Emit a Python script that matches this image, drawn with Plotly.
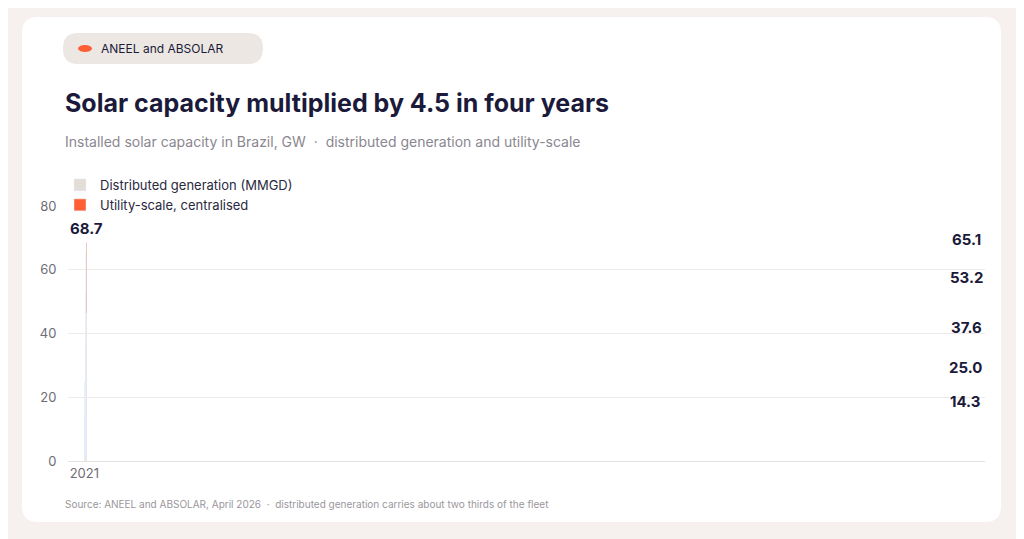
import plotly.graph_objects as go

years = ["2021", "2022", "2023", "2024", "2025", "mar 2026"]
distributed = [9.7, 17.6, 26.0, 36.1, 45.2, 46.4]
totals = [14.3, 25.0, 37.6, 53.2, 65.1, 68.7]
utility = [round(t - d, 1) for t, d in zip(totals, distributed)]

W, H = 1024, 539
OFF = 8  # page body margin
L, R, T, B = 68 - OFF, 39 + OFF, 206 - OFF, 78 + OFF
pw, ph = W - L - R, H - T - B

def px(x):
    return (x - OFF - L) / pw

def py(y):
    return (H - B - (y - OFF)) / ph

def rounded(x0, y0, x1, y1, r):
    X0, X1 = px(x0), px(x1)
    Y0, Y1 = py(y1), py(y0)
    rx, ry = r / pw, r / ph
    return (f"M {X0+rx},{Y0} L {X1-rx},{Y0} Q {X1},{Y0} {X1},{Y0+ry} "
            f"L {X1},{Y1-ry} Q {X1},{Y1} {X1-rx},{Y1} L {X0+rx},{Y1} "
            f"Q {X0},{Y1} {X0},{Y1-ry} L {X0},{Y0+ry} Q {X0},{Y0} {X0+rx},{Y0} Z")

fig = go.Figure()
fig.add_trace(go.Bar(x=years, y=distributed, name="Distributed generation (MMGD)",
                     marker_color="#e3ddd8", hoverinfo="y"))
fig.add_trace(go.Bar(x=years, y=utility, name="Utility-scale, centralised",
                     marker_color="#ff5f35", hoverinfo="y"))

for yr, t in zip(years, totals):
    fig.add_annotation(x=yr, y=t, text=f"<b>{t:.1f}</b>", showarrow=False, yshift=14,
                       font=dict(size=15, color="#1b1a3a"))

shapes = [
    dict(type="path", path=rounded(22, 17, 1001, 522, 16), xref="paper", yref="paper",
         fillcolor="white", line_width=0, layer="below"),
    dict(type="path", path=rounded(63, 33, 263, 64, 15), xref="paper", yref="paper",
         fillcolor="#ece7e3", line_width=0, layer="below"),
    dict(type="circle", xref="paper", yref="paper", x0=px(78), x1=px(92), y0=py(52), y1=py(45),
         fillcolor="#ff5f35", line_width=0),
]
fig.update_layout(shapes=shapes)

texts = [
    (99, 48, "ANEEL and ABSOLAR", 12, "#1b1a3a"),
    (63, 103, "<b>Solar capacity multiplied by 4.5 in four years</b>", 25, "#1b1a3a"),
    (63, 141, "Installed solar capacity in Brazil, GW  ·  distributed generation and utility-scale", 14, "#8a8790"),
    (63, 504, "Source: ANEEL and ABSOLAR, April 2026  ·  distributed generation carries about two thirds of the fleet", 10, "#9a969c"),
]
for x, y, t, s, c in texts:
    fig.add_annotation(x=px(x), y=py(y), xref="paper", yref="paper", text=t, showarrow=False,
                       xanchor="left", yanchor="middle", font=dict(size=s, color=c))

fig.update_layout(
    width=W, height=H, barmode="stack", bargap=0.54,
    paper_bgcolor="#f6f1ee", plot_bgcolor="rgba(0,0,0,0)",
    margin=dict(l=L, r=R, t=T, b=B),
    font=dict(family="Inter, Roboto, sans-serif", color="#6f6c74", size=12),
    legend=dict(x=px(60), y=py(170), xanchor="left", yanchor="top", traceorder="normal",
                bgcolor="rgba(0,0,0,0)", font=dict(size=13, color="#2a2940"),
                itemwidth=30, tracegroupgap=0),
    xaxis=dict(type="category", showgrid=False, linecolor="#e6e1de", showline=True, ticks="",
               tickfont=dict(size=13, color="#6f6c74")),
    yaxis=dict(range=[0, 80], dtick=20, gridcolor="#eeeae7", zeroline=False,
               ticks="outside", ticklen=8, tickcolor="rgba(0,0,0,0)",
               tickfont=dict(size=13, color="#6f6c74")),
    showlegend=True,
)

fig.write_html("out.html")
